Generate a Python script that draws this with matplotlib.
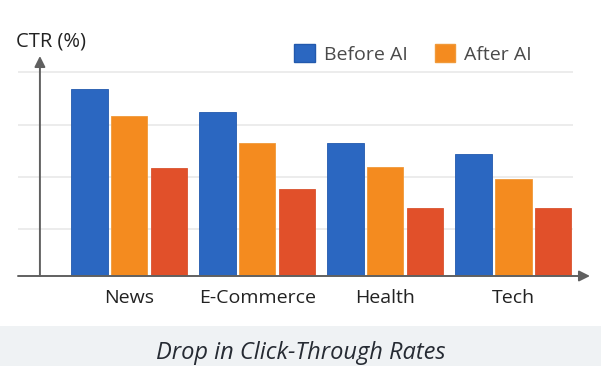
import matplotlib.pyplot as plt
import numpy as np
from matplotlib.patches import Patch, Rectangle

plt.rcParams['font.family'] = ['Open Sans', 'DejaVu Sans']

# data (CTR, arbitrary % scale)
categories = ['News', 'E-Commerce', 'Health', 'Tech']
before_ai = [7.3, 6.4, 5.2, 4.75]
after_ai = [6.25, 5.2, 4.25, 3.8]
third = [4.2, 3.4, 2.65, 2.65]
grid_vals = [1.85, 3.85, 5.9, 7.95]

blue = '#2b67c1'
orange = '#f48b1f'
red = '#e1502a'

W, H = 601, 366
fig = plt.figure(figsize=(W / 100, H / 100), dpi=100)
fig.patch.set_facecolor('white')

# light band behind the title
fig.patches.append(Rectangle((0, 0), 1, 40 / H, transform=fig.transFigure,
                             facecolor='#eff2f4', edgecolor='none', zorder=0))

ax = fig.add_axes([18 / W, (H - 276) / H, (590 - 18) / W, (276 - 56) / H])
ax.set_facecolor('none')

x = np.arange(len(categories)) * 1.0
bw = 0.285
step = 0.31
ax.bar(x - step, before_ai, bw, color=blue, edgecolor='#2259ad', lw=0.6, zorder=3)
ax.bar(x, after_ai, bw, color=orange, edgecolor='#f09a3a', lw=0.6, zorder=3)
ax.bar(x + step, third, bw, color=red, edgecolor='#d9532f', lw=0.6, zorder=3)

yaxis_x = (40 - 129.5) / 128.5
xmin, xmax = (18 - 129.5) / 128.5, (592 - 129.5) / 128.5
ymax = 220 / 25.6
ax.set_xlim(xmin, xmax)
ax.set_ylim(0, ymax)

ax.hlines(grid_vals, xmin, (575 - 129.5) / 128.5, color='#ebebeb', lw=1.3, zorder=1)

for s in ax.spines.values():
    s.set_visible(False)
ax.set_xticks([])
ax.set_yticks([])

# axis arrows
ax.annotate('', xy=(xmax, 0), xytext=(xmin, 0),
            arrowprops=dict(arrowstyle='-|>', color='#606060', lw=1.4,
                            mutation_scale=16, shrinkA=0, shrinkB=0), zorder=4)
ax.annotate('', xy=(yaxis_x, ymax), xytext=(yaxis_x, 0),
            arrowprops=dict(arrowstyle='-|>', color='#606060', lw=1.4,
                            mutation_scale=16, shrinkA=0, shrinkB=0), zorder=4)

for xi, name in zip(x, categories):
    ax.text(xi, -22 / 25.6, name, ha='center', va='center', fontsize=14,
            color='#222222', weight='medium')

fig.text(16 / W, 1 - 42 / H, 'CTR (%)', ha='left', va='center', fontsize=14.5,
         color='#222222')

handles = [Patch(facecolor=blue, edgecolor='#2259ad'),
           Patch(facecolor=orange, edgecolor='#f09a3a')]
fig.legend(handles, ['Before AI', 'After AI'], loc='center',
           bbox_to_anchor=(413 / W, 1 - 54 / H), ncol=2, frameon=False,
           fontsize=14, handlelength=1.05, handleheight=1.05,
           handletextpad=0.45, columnspacing=1.4, labelcolor='#4a4a4a')

fig.text(0.5, 1 - 353 / H, 'Drop in Click-Through Rates', ha='center',
         va='center', fontsize=17, style='italic', color='#262b33',
         weight='medium')

fig.savefig('out.png', dpi=100)
